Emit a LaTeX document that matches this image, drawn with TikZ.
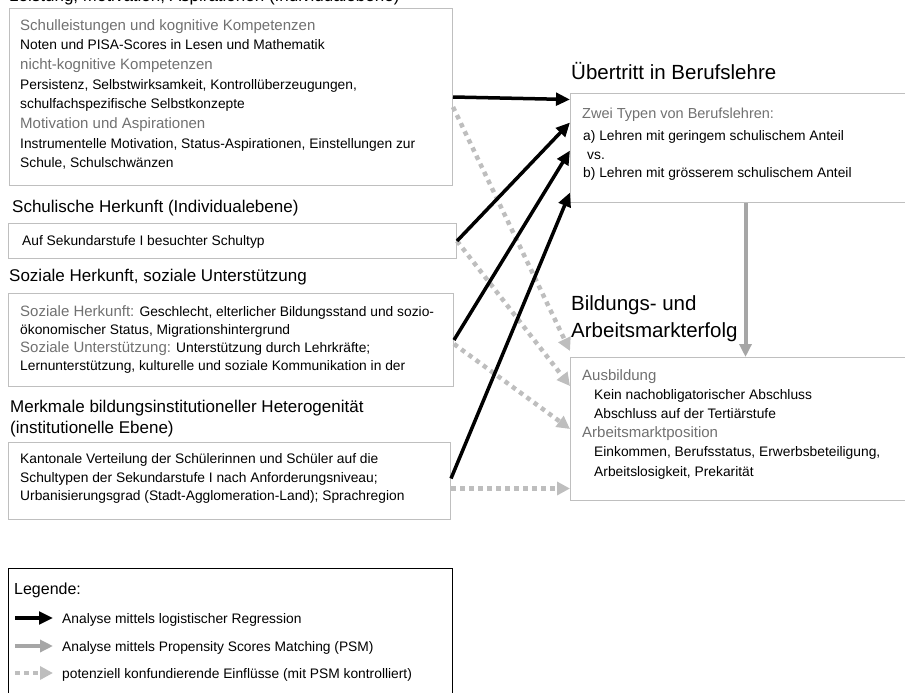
\documentclass[tikz,border=0pt]{standalone}
\usepackage{fontspec}
\setmainfont{Liberation Sans}
\usetikzlibrary{positioning, arrows.meta, calc}

\definecolor{headgray}{RGB}{112,112,112}
\definecolor{boxgray}{RGB}{191,191,191}
\definecolor{psmgray}{RGB}{166,166,166}
\definecolor{dotgray}{RGB}{190,190,190}

\newcommand{\hd}[1]{\textcolor{headgray}{\fontsize{15}{19.7}\selectfont #1}}

\tikzset{
  box/.style={draw=boxgray, line width=1pt, inner sep=0pt, anchor=north west},
  boxtext/.style={anchor=north west, inner sep=0pt, align=left, font=\fontsize{13.8}{19.7}\selectfont},
  lefttitle/.style={anchor=base west, inner sep=0pt, font=\fontsize{17}{21}\selectfont},
  righttitle/.style={anchor=base west, inner sep=0pt, align=left, font=\fontsize{20.5}{27}\selectfont},
  legtext/.style={anchor=base west, inner sep=0pt, font=\fontsize{13.8}{16}\selectfont},
  logit/.style={line width=3.5pt, -{Triangle[length=14pt,width=12.5pt]}},
  psm/.style={line width=4pt, draw=psmgray, -{Triangle[length=13pt,width=12pt]}},
  confound/.style={line width=4.5pt, draw=dotgray, dash pattern=on 4.5pt off 4.5pt, -{Triangle[length=13pt,width=13pt,fill=dotgray]}},
}

\begin{document}
\begin{tikzpicture}[x=1pt, y=-1pt]
\useasboundingbox (0,0) rectangle (905,693);
\clip (0,0) rectangle (905,693);

% linke Spalte
\node[lefttitle] (t1) at (9,1.5) {Leistung, Motivation, Aspirationen (Individualebene)};
\node[box, minimum width=443, minimum height=177] (box1) at (9,8) {};
\node[boxtext] (txt1) at (20,19) {\hd{Schulleistungen und kognitive Kompetenzen}\\
  Noten und PISA-Scores in Lesen und Mathematik\\
  \hd{nicht-kognitive Kompetenzen}\\
  Persistenz, Selbstwirksamkeit, Kontrollüberzeugungen,\\
  schulfachspezifische Selbstkonzepte\\
  \hd{Motivation und Aspirationen}\\
  Instrumentelle Motivation, Status-Aspirationen, Einstellungen zur\\
  Schule, Schulschwänzen};

\node[lefttitle] (t2) at (12,212) {Schulische Herkunft (Individualebene)};
\node[box, minimum width=448, minimum height=35] (box2) at (8,223) {};
\node[boxtext] (txt2) at (22,235) {Auf Sekundarstufe I besuchter Schultyp};

\node[lefttitle] (t3) at (9,281) {Soziale Herkunft, soziale Unterstützung};
\node[box, minimum width=445, minimum height=93] (box3) at (8,293) {};
\node[boxtext, font=\fontsize{13.8}{18.2}\selectfont] (txt3) at (20,305) {\hd{Soziale Herkunft:} Geschlecht, elterlicher Bildungsstand und sozio-\\
  ökonomischer Status, Migrationshintergrund\\
  \hd{Soziale Unterstützung:} Unterstützung durch Lehrkräfte;\\
  Lernunterstützung, kulturelle und soziale Kommunikation in der};

\node[lefttitle] (t4) at (10,412) {Merkmale bildungsinstitutioneller Heterogenität};
\node[lefttitle] (t4b) at (10,433) {(institutionelle Ebene)};
\node[box, minimum width=442, minimum height=77] (box4) at (8,442) {};
\node[boxtext, font=\fontsize{13.8}{18.8}\selectfont] (txt4) at (20,453) {Kantonale Verteilung der Schülerinnen und Schüler auf die\\
  Schultypen der Sekundarstufe I nach Anforderungsniveau;\\
  Urbanisierungsgrad (Stadt-Agglomeration-Land); Sprachregion};

% rechte Spalte
\node[righttitle] (t5) at (571,79) {Übertritt in Berufslehre};
\node[box, minimum width=350, minimum height=109] (box5) at (570,93) {};
\node[boxtext, font=\fontsize{13.8}{18.2}\selectfont] (txt5) at (582,108) {\textcolor{headgray}{\fontsize{14.5}{18}\selectfont Zwei Typen von Berufslehren:}\\[4pt]
  \hspace*{1pt}a) Lehren mit geringem schulischem Anteil\\
  \hspace*{5pt}vs.\\
  \hspace*{1pt}b) Lehren mit grösserem schulischem Anteil};

\node[righttitle] (t6) at (571,337) {Bildungs- und\\Arbeitsmarkterfolg};
\node[box, minimum width=350, minimum height=143] (box6) at (570,357) {};
\node[boxtext, font=\fontsize{13.8}{19.2}\selectfont] (txt6) at (582,369) {\hd{Ausbildung}\\
  \hspace*{12pt}Kein nachobligatorischer Abschluss\\
  \hspace*{12pt}Abschluss auf der Tertiärstufe\\
  \hd{Arbeitsmarktposition}\\
  \hspace*{12pt}Einkommen, Berufsstatus, Erwerbsbeteiligung,\\
  \hspace*{12pt}Arbeitslosigkeit, Prekarität};

% Pfeile
\draw[confound] ([yshift=-10pt]box1.east) -- ([yshift=78pt]box6.west);
\draw[confound] (box2.east) -- ([yshift=43pt]box6.west);
\draw[confound] ([yshift=-4pt]box3.east) -- (box6.west);
\draw[confound] ([yshift=-7.5pt]box4.east) -- ([yshift=-59.5pt]box6.west);
\draw[logit] (box1.east) -- ([yshift=48.5pt]box5.west);
\draw[logit] (box2.east) -- ([yshift=25.5pt]box5.west);
\draw[logit] (box3.east) -- ([yshift=-2.5pt]box5.west);
\draw[logit] ([yshift=2.5pt]box4.east) -- ([yshift=-44.5pt]box5.west);
\draw[psm] (box5.south) -- (box5.south |- box6.north);

% Legende
\node[box, draw=black, line width=1.2pt, minimum width=444, minimum height=200] (legend) at (8,568) {};
\node[legtext, font=\fontsize{16}{18}\selectfont] (legtitle) at (14,594) {Legende:};
\coordinate (l1a) at (15,618);
\coordinate (l1b) at (53,618);
\coordinate (l2a) at (15,646);
\coordinate (l2b) at (53,646);
\coordinate (l3a) at (15,673);
\coordinate (l3b) at (53,673);
\draw[logit] (l1a) -- (l1b);
\draw[psm] (l2a) -- (l2b);
\draw[confound] (l3a) -- (l3b);
\node[legtext] (leg1) at (62,623) {Analyse mittels logistischer Regression};
\node[legtext] (leg2) at (62,651) {Analyse mittels Propensity Scores Matching (PSM)};
\node[legtext] (leg3) at (62,678) {potenziell konfundierende Einflüsse (mit PSM kontrolliert)};
\end{tikzpicture}
\end{document}
